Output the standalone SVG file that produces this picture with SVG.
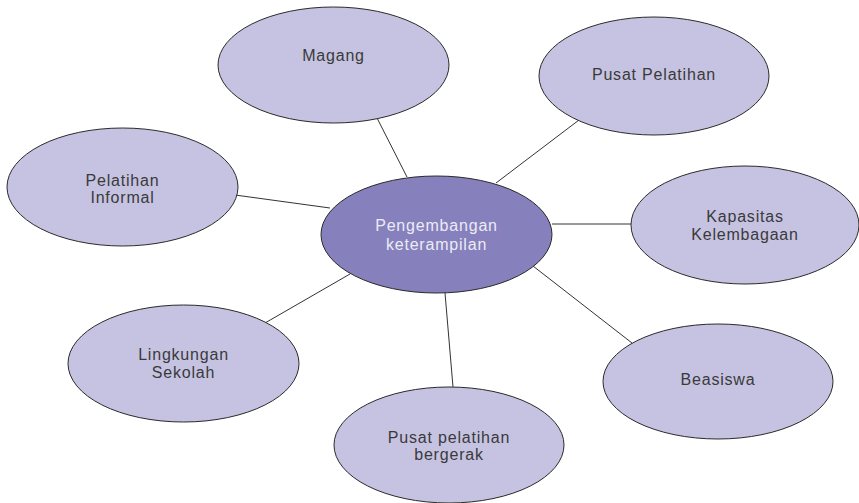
<svg xmlns="http://www.w3.org/2000/svg" width="859" height="503" viewBox="0 0 859 503">
<style>
.node ellipse{fill:#c6c3e2;stroke:#2a2a2a;stroke-width:1}
.center ellipse{fill:#8680bc;stroke:#2a2a2a;stroke-width:1}
text{font-family:"Liberation Sans",Arial,sans-serif;font-size:16px;letter-spacing:0.8px;text-anchor:middle;fill:#3a3a3a}
.center text{fill:#ecebf6}
#connectors line{stroke:#333;stroke-width:1}
</style>
<rect width="859" height="503" fill="#fff"/>
<g id="connectors">
<line x1="376" y1="116" x2="407" y2="177"/>
<line x1="579" y1="120" x2="496" y2="183"/>
<line x1="235" y1="195" x2="330" y2="208"/>
<line x1="552" y1="224" x2="631" y2="224"/>
<line x1="533" y1="266" x2="632" y2="343"/>
<line x1="445" y1="293" x2="453" y2="387"/>
<line x1="350" y1="274" x2="265" y2="323"/>
</g>
<g id="magang" class="node">
<ellipse cx="333.5" cy="65" rx="115.5" ry="58"/>
<text x="333.5" y="61">Magang</text>
</g>
<g id="pusat-pelatihan" class="node">
<ellipse cx="654" cy="76" rx="115" ry="59"/>
<text x="654" y="80">Pusat Pelatihan</text>
</g>
<g id="pelatihan-informal" class="node">
<ellipse cx="122.5" cy="187" rx="115.5" ry="59"/>
<text x="122.5" y="186">Pelatihan</text>
<text x="122.5" y="203">Informal</text>
</g>
<g id="kapasitas" class="node">
<ellipse cx="745" cy="225" rx="114" ry="59"/>
<text x="745" y="222">Kapasitas</text>
<text x="745" y="240">Kelembagaan</text>
</g>
<g id="lingkungan" class="node">
<ellipse cx="183.5" cy="363.5" rx="115.5" ry="58.5"/>
<text x="183.5" y="360">Lingkungan</text>
<text x="183.5" y="378">Sekolah</text>
</g>
<g id="beasiswa" class="node">
<ellipse cx="718" cy="381.5" rx="115" ry="57.5"/>
<text x="718" y="385">Beasiswa</text>
</g>
<g id="pusat-bergerak" class="node">
<ellipse cx="449" cy="445" rx="115" ry="58"/>
<text x="449" y="443">Pusat pelatihan</text>
<text x="449" y="460">bergerak</text>
</g>
<g id="pengembangan" class="center">
<ellipse cx="436.5" cy="234.5" rx="115.5" ry="58.5"/>
<text x="436.5" y="231">Pengembangan</text>
<text x="436.5" y="250">keterampilan</text>
</g>
</svg>
